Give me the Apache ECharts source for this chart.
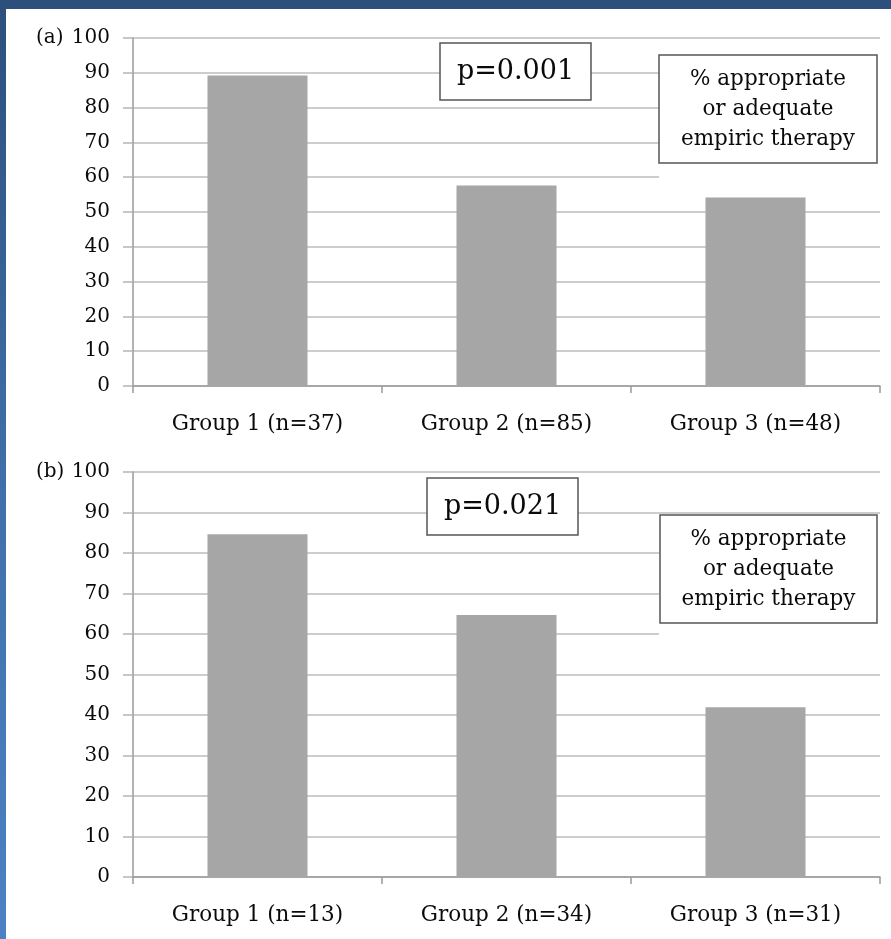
<!DOCTYPE html>
<html>
<head>
<meta charset="utf-8">
<script src="https://cdn.jsdelivr.net/npm/echarts@6/dist/echarts.min.js"></script>
<style>
  html, body { margin: 0; padding: 0; }
  #frame { position: absolute; left: 0; top: 0; width: 891px; height: 939px;
           background: linear-gradient(180deg, #2c4f7c 0%, #3f6fa8 50%, #4c82c4 100%); }
  #panel { position: absolute; left: 6px; top: 9px; width: 885px; height: 930px; background: #ffffff; }
  #chart { position: absolute; left: 0; top: 0; width: 891px; height: 939px; }
</style>
</head>
<body>
<div id="frame"></div>
<div id="panel"></div>
<div id="chart"></div>
<script>
// ---- data ----
var categoriesA = ['Group 1 (n=37)', 'Group 2 (n=85)', 'Group 3 (n=48)'];
var valuesA = [89.2, 57.6, 54.2];
var categoriesB = ['Group 1 (n=13)', 'Group 2 (n=34)', 'Group 3 (n=31)'];
var valuesB = [84.6, 64.7, 41.9];
var yMin = 0, yMax = 100, yStep = 10;
var panelLabels = ['(a)', '(b)'];
var pValues = ['p=0.001', 'p=0.021'];
var legendText = '% appropriate\nor adequate\nempiric therapy';

var FONT = 'DejaVu Serif';
var chart = echarts.init(document.getElementById('chart'), null, { renderer: 'canvas' });

function yAxisCfg(gi) {
  return {
    type: 'value', gridIndex: gi, min: yMin, max: yMax, interval: yStep,
    axisLine: { show: true, lineStyle: { color: '#9a9a9a', width: 1.5 } },
    axisTick: { show: true, length: 10, lineStyle: { color: '#b5b5b5', width: 1.5 } },
    axisLabel: { fontFamily: FONT, fontSize: 20, color: '#0a0a0a', margin: 23 },
    splitLine: { show: true, lineStyle: { color: '#bdbdbd', width: 1.6 } }
  };
}
function xAxisCfg(gi, cats) {
  return {
    type: 'category', gridIndex: gi, data: cats,
    axisLine: { show: true, lineStyle: { color: '#9a9a9a', width: 1.5 } },
    axisTick: { show: true, length: 7, interval: 0, lineStyle: { color: '#9a9a9a', width: 1.5 } },
    axisLabel: { fontFamily: FONT, fontSize: 21.5, color: '#0a0a0a', margin: 27, interval: 0 }
  };
}
function box(x, y, w, h, text, size, lh) {
  return {
    type: 'group', z: 100,
    children: [
      { type: 'rect', z: 100, shape: { x: x, y: y, width: w, height: h },
        style: { fill: '#ffffff', stroke: '#555555', lineWidth: 1.5 } },
      { type: 'text', z: 101, x: x + w / 2, y: y + h / 2,
        style: { text: text, font: size + 'px "' + FONT + '"', fill: '#0a0a0a',
                 align: 'center', verticalAlign: 'middle', lineHeight: lh } }
    ]
  };
}
function blank(x, y, w, h) {
  return { type: 'rect', z: 99, shape: { x: x, y: y, width: w, height: h }, style: { fill: '#ffffff' } };
}
function label(x, y, text) {
  return { type: 'text', z: 100, x: x, y: y,
           style: { text: text, font: '20px "' + FONT + '"', fill: '#0a0a0a', verticalAlign: 'middle' } };
}

chart.setOption({
  animation: false,
  backgroundColor: 'transparent',
  grid: [
    { left: 133, right: 11, top: 38, height: 348 },
    { left: 133, right: 11, top: 472, height: 405 }
  ],
  xAxis: [xAxisCfg(0, categoriesA), xAxisCfg(1, categoriesB)],
  yAxis: [yAxisCfg(0), yAxisCfg(1)],
  series: [
    { type: 'bar', xAxisIndex: 0, yAxisIndex: 0, data: valuesA, barWidth: 100,
      itemStyle: { color: '#a6a6a6' } },
    { type: 'bar', xAxisIndex: 1, yAxisIndex: 1, data: valuesB, barWidth: 100,
      itemStyle: { color: '#a6a6a6' } }
  ],
  graphic: [
    label(36, 38, panelLabels[0]),
    label(36, 472, panelLabels[1]),
    blank(659, 55, 221, 127),
    box(440, 43, 151, 57, pValues[0], 27, 30),
    box(659, 55, 218, 108, legendText, 21.5, 30),
    blank(659, 515, 221, 123),
    box(427, 478, 151, 57, pValues[1], 27, 30),
    box(660, 515, 217, 108, legendText, 21.5, 30)
  ]
});
</script>
</body>
</html>
